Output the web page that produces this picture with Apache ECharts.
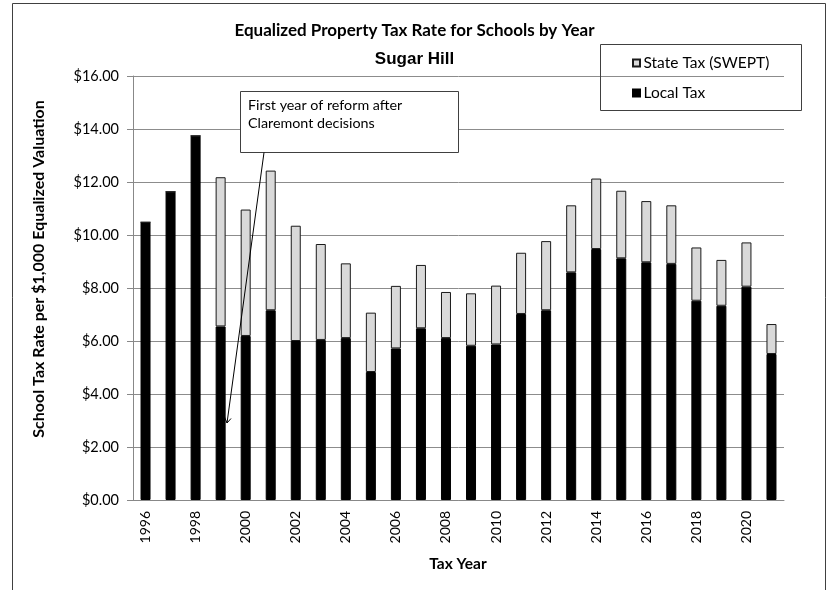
<!DOCTYPE html>
<html>
<head>
<meta charset="utf-8">
<script src="https://cdn.jsdelivr.net/npm/echarts@6/dist/echarts.min.js"></script>
<style>
html,body{margin:0;padding:0;background:#fff;}
#c{width:829px;height:590px;}
</style>
</head>
<body>
<div id="c"></div>
<script>
var years = ['1996','1997','1998','1999','2000','2001','2002','2003','2004','2005','2006','2007','2008','2009','2010','2011','2012','2013','2014','2015','2016','2017','2018','2019','2020','2021'];
var localTax = [10.48, 11.63, 13.74, 6.55, 6.19, 7.16, 6.00, 6.04, 6.11, 4.83, 5.72, 6.48, 6.11, 5.82, 5.87, 7.02, 7.16, 8.59, 9.47, 9.12, 8.97, 8.91, 7.52, 7.33, 8.05, 5.51];
var stateTax = [0, 0, 0, 5.63, 4.77, 5.27, 4.35, 3.62, 2.82, 2.24, 2.36, 2.39, 1.74, 1.98, 2.22, 2.31, 2.61, 2.53, 2.66, 2.55, 2.31, 2.21, 2.01, 1.73, 1.67, 1.13];
var yTicks = ['$0.00','$2.00','$4.00','$6.00','$8.00','$10.00','$12.00','$14.00','$16.00'];

var FONT = 'Lato, "Open Sans", sans-serif';
var chart = echarts.init(document.getElementById('c'), null, {renderer:'canvas'});
var option = {
  animation: false,
  backgroundColor: '#fff',
  title: [
    {text: 'Equalized Property Tax Rate for Schools by Year', left: 'center', top: 17,
     textStyle: {fontFamily: FONT, fontWeight: 'bold', fontSize: 17, color: '#000'}},
    {text: 'Sugar Hill', left: 'center', top: 46,
     textStyle: {fontFamily: 'Liberation Sans, Arial, sans-serif', fontWeight: 'bold', fontSize: 17, color: '#000'}}
  ],
  legend: {
    orient: 'vertical', left: 627, top: 50,
    itemWidth: 7, itemHeight: 7, itemGap: 14,
    icon: 'rect',
    data: ['State Tax (SWEPT)', 'Local Tax'],
    textStyle: {fontFamily: FONT, fontSize: 15.5, color: '#000', padding: [0,0,0,-1.5]}
  },
  grid: {left: 133, right: 45, top: 76, bottom: 90, containLabel: false},
  xAxis: {
    type: 'category', data: years, boundaryGap: true,
    axisLine: {lineStyle: {color: '#888', width: 1}},
    axisTick: {interval: 0, length: 5, lineStyle: {color: '#888'}},
    axisLabel: {interval: 1, rotate: 90, margin: 11, fontFamily: FONT, fontSize: 14, color: '#000'}
  },
  yAxis: {
    type: 'value', min: 0, max: 16, interval: 2,
    axisLine: {show: true, lineStyle: {color: '#888', width: 1}},
    axisTick: {show: true, length: 6, lineStyle: {color: '#888'}},
    splitLine: {lineStyle: {color: '#8c8c8c', width: 1}},
    axisLabel: {margin: 14, fontFamily: FONT, fontSize: 14.5, color: '#000',
      formatter: function(v){ return yTicks[Math.round(v/2)]; }}
  },
  series: [
    {name: 'Local Tax', type: 'bar', stack: 't', data: localTax, barWidth: 10,
     itemStyle: {color: '#000', borderColor: '#000', borderWidth: 1}},
    {name: 'State Tax (SWEPT)', type: 'bar', stack: 't', data: stateTax, barWidth: 10,
     itemStyle: {color: '#d9d9d9', borderColor: '#1a1a1a', borderWidth: 1}}
  ],
  graphic: [
    {type: 'rect', shape: {x: 12.5, y: 3.5, width: 813, height: 620}, style: {fill: 'none', stroke: '#404040', lineWidth: 1}, silent: true, z: 0},
    {type: 'rect', shape: {x: 600.5, y: 44.5, width: 201, height: 66}, style: {fill: 'none', stroke: '#404040', lineWidth: 1}, z: 1},
    {type: 'text', rotation: Math.PI/2, x: 39, y: 269, style: {text: 'School Tax Rate per $1,000 Equalized Valuation', fontFamily: FONT, fontWeight: 'bold', fontSize: 16, fill: '#000', textAlign: 'center', textVerticalAlign: 'middle'}},
    {type: 'text', x: 458, y: 556, style: {text: 'Tax Year', fontFamily: FONT, fontWeight: 'bold', fontSize: 15.5, fill: '#000', textAlign: 'center', textVerticalAlign: 'top'}},
    {type: 'rect', shape: {x: 240.5, y: 91.5, width: 218, height: 61}, style: {fill: '#fff', stroke: '#404040', lineWidth: 1}, z: 10},
    {type: 'text', x: 248, y: 96, z: 11, style: {text: 'First year of reform after\nClaremont decisions', fontFamily: FONT, fontSize: 14.3, lineHeight: 18.5, fill: '#000'}},
    {type: 'line', z: 10, shape: {x1: 264, y1: 152.5, x2: 227, y2: 423}, style: {stroke: '#000', lineWidth: 1}},
    {type: 'polyline', z: 10, shape: {points: [[224.5, 417], [227, 423], [231, 418.5]]}, style: {stroke: '#000', lineWidth: 1, fill: 'none'}}
  ]
};
chart.setOption(option);
</script>
</body>
</html>
